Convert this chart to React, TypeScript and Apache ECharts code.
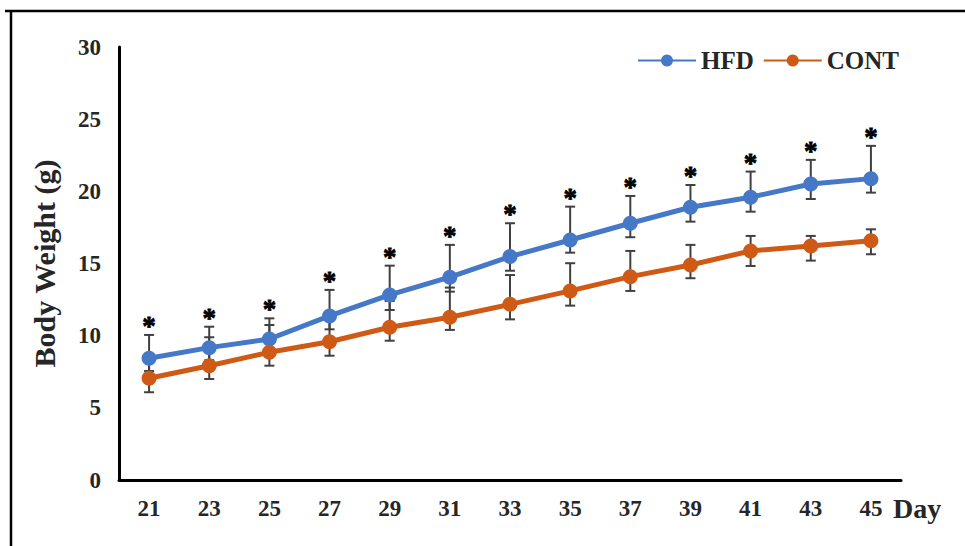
import React, { useEffect, useRef } from "react";
import * as echarts from "echarts";

const days = ["21", "23", "25", "27", "29", "31", "33", "35", "37", "39", "41", "43", "45"];
const yTicks = [0, 5, 10, 15, 20, 25, 30];

const hfd = [8.43, 9.17, 9.77, 11.37, 12.82, 14.05, 15.48, 16.63, 17.79, 18.9, 19.59, 20.51, 20.88];
const hfdUpper = [10.05, 10.62, 11.2, 13.17, 14.85, 16.29, 17.79, 18.94, 19.68, 20.44, 21.37, 22.18, 23.15];
const hfdLower = [7.55, 8.3, 8.87, 10.44, 11.78, 13.05, 14.5, 15.75, 16.82, 17.9, 18.59, 19.47, 19.91];

const cont = [7.05, 7.92, 8.85, 9.58, 10.58, 11.28, 12.17, 13.1, 14.09, 14.9, 15.87, 16.22, 16.58];
const contUpper = [8.6, 9.89, 10.74, 11.4, 12.4, 13.33, 14.2, 15.02, 15.87, 16.29, 16.91, 16.91, 17.37];
const contLower = [6.08, 7.0, 7.92, 8.61, 9.65, 10.4, 11.13, 12.08, 13.1, 13.98, 14.83, 15.2, 15.64];

const significant = [1, 1, 1, 1, 1, 1, 1, 1, 1, 1, 1, 1, 1];

const FONT = "'Liberation Serif', 'Times New Roman', serif";
const BLUE = "#4678C8";
const ORANGE = "#CF5A16";

function makeErrorSeries(name: string, lower: number[], upper: number[], star: boolean) {
  return {
    type: "custom",
    name: name + "-err",
    z: 1,
    silent: true,
    data: days.map((_, i) => [i, lower[i], upper[i], star ? significant[i] : 0]),
    encode: { x: 0, y: [1, 2] },
    renderItem: (params: any, api: any) => {
      const x = api.value(0);
      const lo = api.value(1);
      const hi = api.value(2);
      const s = api.value(3);
      const pLo = api.coord([x, lo]);
      const pHi = api.coord([x, hi]);
      const hw = 5;
      const style = { stroke: "#404040", lineWidth: 2 };
      const children: any[] = [
        { type: "line", shape: { x1: pHi[0], y1: pHi[1], x2: pLo[0], y2: pLo[1] }, style },
        { type: "line", shape: { x1: pHi[0] - hw, y1: pHi[1], x2: pHi[0] + hw, y2: pHi[1] }, style },
        { type: "line", shape: { x1: pLo[0] - hw, y1: pLo[1], x2: pLo[0] + hw, y2: pLo[1] }, style },
      ];
      if (s) {
        children.push({
          type: "text",
          x: pHi[0],
          y: pHi[1] - 9,
          style: {
            text: "*",
            fontSize: 27,
            fontWeight: "bold",
            fontFamily: FONT,
            fill: "#000",
            stroke: "#000",
            lineWidth: 0.8,
            align: "center",
            verticalAlign: "middle",
          },
        });
      }
      return { type: "group", children };
    },
  };
}

export default function App() {
  const ref = useRef<HTMLDivElement>(null);
  useEffect(() => {
    if (!ref.current) return;
    const chart = echarts.init(ref.current, null, { renderer: "svg" });
    chart.setOption({
      animation: false,
      backgroundColor: "#ffffff",
      grid: { left: 119, top: 47, width: 782, height: 433 },
      legend: {
        data: ["HFD", "CONT"],
        left: 632,
        top: 43,
        itemWidth: 58,
        itemHeight: 15,
        itemGap: 9,
        textStyle: { fontFamily: FONT, fontWeight: "bold", fontSize: 25, color: "#262626" },
      },
      xAxis: {
        type: "category",
        data: days,
        boundaryGap: true,
        axisLine: { show: true, lineStyle: { color: "#000", width: 3 } },
        axisTick: { show: false },
        splitLine: { show: false },
        axisLabel: { margin: 17, fontFamily: FONT, fontWeight: "bold", fontSize: 23, color: "#262626" },
      },
      yAxis: {
        type: "value",
        min: yTicks[0],
        max: yTicks[yTicks.length - 1],
        interval: 5,
        name: "Body Weight (g)",
        nameLocation: "middle",
        nameGap: 60,
        nameTextStyle: { fontFamily: FONT, fontWeight: "bold", fontSize: 30, color: "#262626" },
        axisLine: { show: true, lineStyle: { color: "#000", width: 3 } },
        axisTick: { show: false },
        splitLine: { show: false },
        axisLabel: { margin: 18, fontFamily: FONT, fontWeight: "bold", fontSize: 23, color: "#262626" },
      },
      graphic: [
        { type: "line", shape: { x1: 5, y1: 11, x2: 965, y2: 11 }, style: { stroke: "#000", lineWidth: 2.5 } },
        { type: "line", shape: { x1: 11, y1: 11, x2: 11, y2: 546 }, style: { stroke: "#000", lineWidth: 2.5 } },
        {
          type: "text",
          x: 893,
          y: 508,
          style: {
            text: "Day",
            fontFamily: FONT,
            fontWeight: "bold",
            fontSize: 28,
            fill: "#262626",
            align: "left",
            verticalAlign: "middle",
          },
        },
      ],
      series: [
        makeErrorSeries("HFD", hfdLower, hfdUpper, true),
        makeErrorSeries("CONT", contLower, contUpper, false),
        {
          type: "line",
          name: "HFD",
          z: 3,
          data: hfd,
          symbol: "circle",
          symbolSize: 15,
          lineStyle: { color: BLUE, width: 5 },
          itemStyle: { color: BLUE },
        },
        {
          type: "line",
          name: "CONT",
          z: 3,
          data: cont,
          symbol: "circle",
          symbolSize: 15,
          lineStyle: { color: ORANGE, width: 5 },
          itemStyle: { color: ORANGE },
        },
      ],
    });
    return () => chart.dispose();
  }, []);
  return (
    <div
      ref={ref}
      style={{ position: "absolute", left: 0, top: 0, width: 965, height: 546, background: "#fff" }}
    />
  );
}
